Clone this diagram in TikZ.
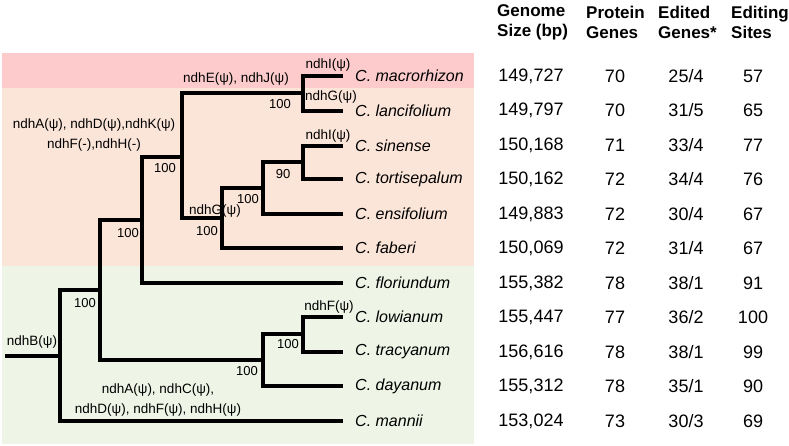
\documentclass[tikz,border=0pt]{standalone}
\usepackage{fontspec}
\setmainfont{Liberation Sans}
\usepackage{xcolor}
\usepackage{tikz}
\usetikzlibrary{positioning}

\definecolor{bandpink}{HTML}{FDCBCB}
\definecolor{bandpeach}{HTML}{FBE5D8}
\definecolor{bandgreen}{HTML}{EEF4E6}

\begin{document}
\begin{tikzpicture}[
        x=1pt, y=-1pt,
        branch/.style={line width=3.5pt},
        taxon/.style={anchor=west, inner xsep=12pt, inner ysep=0pt, font=\fontsize{16}{18}\selectfont\itshape},
        gene/.style={inner sep=0pt, align=center, font=\fontsize{13.5}{20}\selectfont},
        boot/.style={inner sep=0pt, font=\fontsize{13}{15}\selectfont},
        head/.style={anchor=west, inner sep=0pt, align=left, font=\fontsize{17}{20}\selectfont\bfseries},
        cell/.style={inner sep=0pt, font=\fontsize{18}{20}\selectfont}
    ]
        \useasboundingbox (0,0) rectangle (789,446);

        % clade bands
        \fill[bandpink] (2,53) rectangle (474,88);
        \fill[bandpeach] (2,88) rectangle (474,266);
        \fill[bandgreen] (2,266) rectangle (474,444);

        % taxa
        \node[taxon] (mac) at (343,76) {C. macrorhizon};
        \node[taxon] (lan) at (343,111) {C. lancifolium};
        \node[taxon] (sin) at (343,146) {C. sinense};
        \node[taxon] (tor) at (343,179) {C. tortisepalum};
        \node[taxon] (ens) at (343,214) {C. ensifolium};
        \node[taxon] (fab) at (343,248) {C. faberi};
        \node[taxon] (flo) at (343,283) {C. floriundum};
        \node[taxon] (low) at (343,317) {C. lowianum};
        \node[taxon] (tra) at (343,352) {C. tracyanum};
        \node[taxon] (day) at (343,386) {C. dayanum};
        \node[taxon] (man) at (343,421) {C. mannii};

        % internal nodes
        \coordinate (base) at (5,356);
        \coordinate (nR) at (60,356);
        \coordinate (nA) at (100,290);
        \coordinate (nB) at (142,220);
        \coordinate (nC) at (182,157);
        \coordinate (nD) at (303,93);
        \coordinate (nE) at (222,218);
        \coordinate (nF) at (263,188);
        \coordinate (nG) at (303,162);
        \coordinate (nL) at (263,360);
        \coordinate (nM) at (303,334);

        \draw[branch] (base) -- (nR);
        \draw[branch] (nR) |- (nA);
        \draw[branch] (nR) |- (man.west);
        \draw[branch] (nA) |- (nB);
        \draw[branch] (nA) |- (nL);
        \draw[branch] (nB) |- (nC);
        \draw[branch] (nB) |- (flo.west);
        \draw[branch] (nC) |- (nD);
        \draw[branch] (nC) |- (nE);
        \draw[branch] (nD) |- (mac.west);
        \draw[branch] (nD) |- (lan.west);
        \draw[branch] (nE) |- (nF);
        \draw[branch] (nE) |- (fab.west);
        \draw[branch] (nF) |- (nG);
        \draw[branch] (nF) |- (ens.west);
        \draw[branch] (nG) |- (sin.west);
        \draw[branch] (nG) |- (tor.west);
        \draw[branch] (nL) |- (nM);
        \draw[branch] (nL) |- (day.west);
        \draw[branch] (nM) |- (low.west);
        \draw[branch] (nM) |- (tra.west);

        % gene losses
        \node[gene] (lossmac) at (328,65) {ndhI(ψ)};
        \node[gene] (losslan) at (331,97) {ndhG(ψ)};
        \node[gene] (lossD) at (236,79) {ndhE(ψ), ndhJ(ψ)};
        \node[gene] (lossC) at (94,135) {ndhA(ψ), ndhD(ψ),ndhK(ψ)\\ndhF(-),ndhH(-)};
        \node[gene] (lossE) at (215,211) {ndhG(ψ)};
        \node[gene] (losssin) at (328,136) {ndhI(ψ)};
        \node[gene] (losslow) at (329,307) {ndhF(ψ)};
        \node[gene] (lossR) at (32,342) {ndhB(ψ)};
        \node[gene] (lossman) at (158,400) {ndhA(ψ), ndhC(ψ),\\ndhD(ψ), ndhF(ψ), ndhH(ψ)};

        % bootstrap
        \node[boot] (bsD) at (280,104) {100};
        \node[boot] (bsC) at (165,168) {100};
        \node[boot] (bsB) at (128,233) {100};
        \node[boot] (bsA) at (85,303) {100};
        \node[boot] (bsE) at (207,231) {100};
        \node[boot] (bsF) at (248,199) {100};
        \node[boot] (bsG) at (283,174) {90};
        \node[boot] (bsL) at (247,371) {100};
        \node[boot] (bsM) at (288,344) {100};

        % table
        \node[head] (hgen) at (497,22) {Genome\\Size (bp)};
        \node[head] (hpro) at (586,22) {Protein\\Genes};
        \node[head] (hedi) at (658,22) {Edited\\Genes*};
        \node[head] (hsit) at (731,22) {Editing\\Sites};
        \foreach \g/\p/\e/\s [count=\i] in {{149,727}/70/{25/4}/57, {149,797}/70/{31/5}/65,
            {150,168}/71/{33/4}/77, {150,162}/72/{34/4}/76, {149,883}/72/{30/4}/67,
            {150,069}/72/{31/4}/67, {155,382}/78/{38/1}/91, {155,447}/77/{36/2}/100,
            {156,616}/78/{38/1}/99, {155,312}/78/{35/1}/90, {153,024}/73/{30/3}/69} {
            \node[cell] (g\i) at (531,{76+34.5*(\i-1)}) {\g};
            \node[cell] (p\i) at (615,{76+34.5*(\i-1)}) {\p};
            \node[cell] (e\i) at (686,{76+34.5*(\i-1)}) {\e};
            \node[cell] (s\i) at (753,{76+34.5*(\i-1)}) {\s};
        }
    \end{tikzpicture}
\end{document}
